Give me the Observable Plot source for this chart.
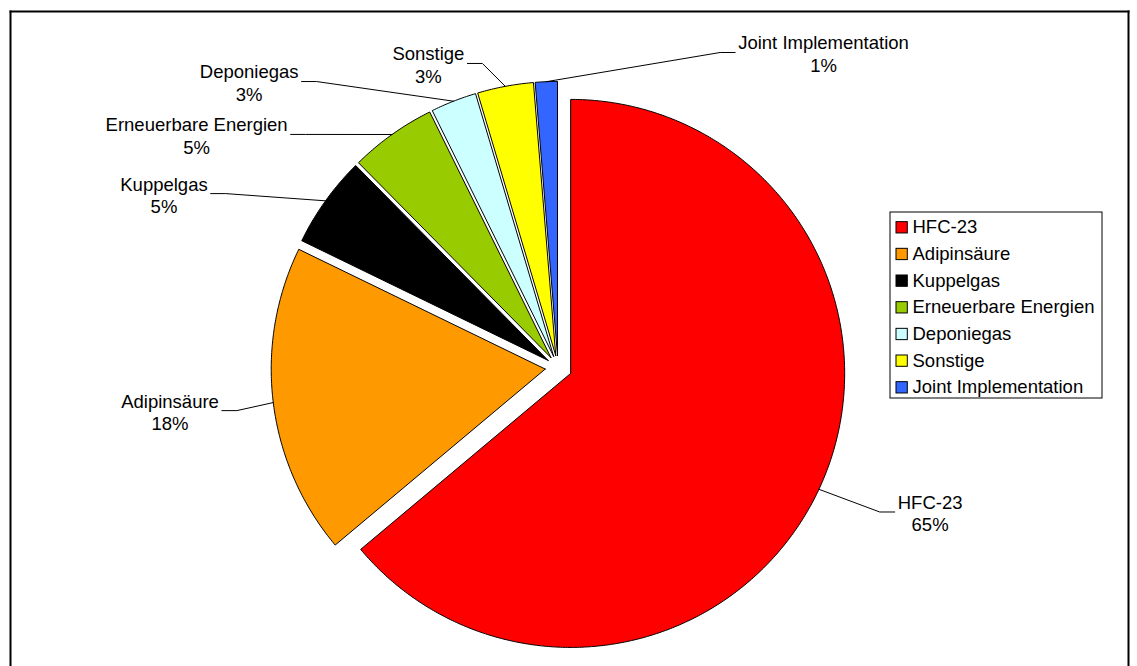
<!DOCTYPE html>
<html><head><meta charset="utf-8">
<script src="https://cdn.jsdelivr.net/npm/d3@7"></script>
<script src="https://cdn.jsdelivr.net/npm/@observablehq/plot@0.6"></script>
<style>body{margin:0;background:#fff}</style>
</head><body><div id="chart"></div>
<script>
// ---- data ----
const categories = ["HFC-23", "Adipinsäure", "Kuppelgas", "Erneuerbare Energien", "Deponiegas", "Sonstige", "Joint Implementation"];
const shares = [63.9, 18.3, 5.4, 5.1, 2.7, 3.3, 1.3];
const pctLabels = ["65%", "18%", "5%", "5%", "3%", "3%", "1%"];
const colors = ["#FF0000", "#FF9900", "#000000", "#99CC00", "#CCFFFF", "#FFFF00", "#3366FF"];

// ---- layout ----
const W = 1137, H = 666;
const pie = {cx: 557.5, cy: 367, r: 274};
const explode = [0.051, 0.047, 0.044, 0.044, 0.044, 0.044, 0.044];
const labelOffsets = [[1.358, 0.531], [-1.416, 0.161], [-1.438, -0.631], [-1.319, -0.847], [-1.127, -1.040], [-0.473, -1.106], [0.969, -1.146]];
const fontFamily = "'Liberation Sans', Arial, Helvetica, sans-serif";
const fontSize = 18.5;

const X = px => (px - pie.cx) / pie.r;
const Y = py => (py - pie.cy) / pie.r;
const U = px => px / pie.r;

const ctx = document.createElement("canvas").getContext("2d");
ctx.font = `${fontSize}px ${fontFamily}`;
const measure = s => ctx.measureText(s).width;

const arcs = d3.pie().sort(null).value(d => d)(shares);
const slices = arcs.map((a, i) => {
  const mid = (a.startAngle + a.endAngle) / 2;
  return {name: categories[i], a0: a.startAngle, a1: a.endAngle, mid,
          ox: explode[i] * Math.sin(mid), oy: -explode[i] * Math.cos(mid)};
});
const slicePts = slices.flatMap(s => {
  const n = Math.max(2, Math.ceil((s.a1 - s.a0) / (Math.PI / 360)));
  const pts = [{name: s.name, x: s.ox, y: s.oy}];
  for (let k = 0; k <= n; k++) {
    const a = s.a0 + (s.a1 - s.a0) * k / n;
    pts.push({name: s.name, x: s.ox + Math.sin(a), y: s.oy - Math.cos(a)});
  }
  pts.push({name: s.name, x: s.ox, y: s.oy});
  return pts;
});

const labels = slices.map((s, i) => ({
  name: s.name, x: labelOffsets[i][0], y: labelOffsets[i][1],
  text: categories[i] + "\n" + pctLabels[i]
}));
const leaderPts = slices.flatMap((s, i) => {
  const [lx, ly] = labelOffsets[i];
  const w = U(Math.max(measure(categories[i]), measure(pctLabels[i])));
  const side = lx < 0 ? -1 : 1;
  const ex = lx - side * (w / 2 + U(3));
  const bx = ex - side * U(15);
  const yy = ly - U(1);
  return [
    {name: s.name, x: s.ox + Math.sin(s.mid), y: s.oy - Math.cos(s.mid)},
    {name: s.name, x: bx, y: yy},
    {name: s.name, x: ex, y: yy}
  ];
});

// legend
const leg = {x1: 890, x2: 1102, y1: 212, y2: 398, row0: 227.3, step: 26.67, sw: 896, sz: 11.3, tx: 912};
const legendRows = categories.map((c, i) => ({
  name: c,
  x1: X(leg.sw), x2: X(leg.sw + leg.sz),
  y1: Y(leg.row0 + i * leg.step - leg.sz / 2), y2: Y(leg.row0 + i * leg.step + leg.sz / 2),
  tx: X(leg.tx), ty: Y(leg.row0 + i * leg.step - 0.5)
}));

const frameLines = [
  {k: "t", x: X(10), y: Y(11)}, {k: "t", x: X(1128), y: Y(11)},
  {k: "l", x: X(10), y: Y(11)}, {k: "l", x: X(10), y: Y(H + 5)},
  {k: "r", x: X(1128), y: Y(11)}, {k: "r", x: X(1128), y: Y(H + 5)}
];

const chart = Plot.plot({
  width: W, height: H,
  marginTop: 0, marginLeft: 0, marginRight: 0, marginBottom: 0,
  style: {background: "#fff"},
  x: {domain: [X(0), X(W)], range: [0, W], axis: null},
  y: {domain: [Y(0), Y(H)], range: [0, H], axis: null},
  color: {domain: categories, range: colors},
  marks: [
    Plot.line(frameLines, {x: "x", y: "y", z: "k", stroke: "#000", strokeWidth: 2, strokeLinecap: "square"}),
    Plot.line(slicePts, {x: "x", y: "y", z: "name", fill: "name", stroke: "#000", strokeWidth: 1, strokeLinejoin: "miter", strokeMiterlimit: 10, curve: "linear"}),
    Plot.line(leaderPts, {x: "x", y: "y", z: "name", stroke: "#000", strokeWidth: 1, strokeLinejoin: "miter"}),
    Plot.text(labels, {x: "x", y: "y", text: "text", fontSize, fontFamily, lineHeight: 1.22, textAnchor: "middle", fill: "#000"}),
    Plot.rect([leg], {x1: d => X(d.x1), x2: d => X(d.x2), y1: d => Y(d.y1), y2: d => Y(d.y2), fill: "#fff", stroke: "#000", strokeWidth: 1}),
    Plot.rect(legendRows, {x1: "x1", x2: "x2", y1: "y1", y2: "y2", fill: "name", stroke: "#000", strokeWidth: 1}),
    Plot.text(legendRows, {x: "tx", y: "ty", text: "name", textAnchor: "start", fontSize, fontFamily, fill: "#000"})
  ]
});
document.getElementById("chart").appendChild(chart);
</script></body></html>
